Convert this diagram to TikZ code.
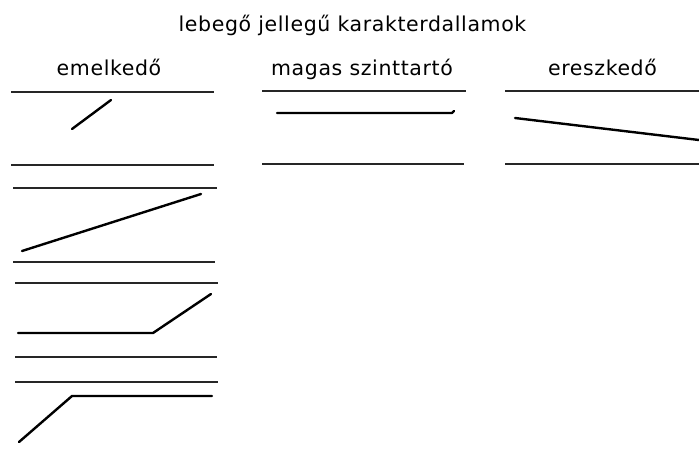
\documentclass[tikz,border=0pt]{standalone}
\usepackage{fontspec}
\setmainfont{DejaVu Sans}[LetterSpace=3]
\begin{document}
\begin{tikzpicture}[x=1pt,y=-1pt,
  txt/.style={inner sep=0pt,anchor=base,font=\fontsize{20.5}{24}\selectfont},
  staff/.style={line width=1.1pt,black!85},
  melody/.style={line width=2.4pt,line cap=round,line join=round}]
\useasboundingbox[fill=white] (0,0) rectangle (699,450);
% texts
\node[txt] (title) at (352.5,31) {lebegő jellegű karakterdallamok};
\node[txt] (h1) at (109,75) {emelkedő};
\node[txt] (h2) at (362,75) {magas szinttartó};
\node[txt] (h3) at (602.5,75) {ereszkedő};
% column 1
\draw[staff] (11,92) -- (214,92);
\draw[staff] (11,165) -- (214,165);
\draw[melody] (72,129) -- (111,100);
\draw[staff] (13,188) -- (217,188);
\draw[staff] (13,262) -- (215,262);
\draw[melody] (22,251) -- (201,194);
\draw[staff] (15,283) -- (218,283);
\draw[staff] (15,357) -- (217,357);
\draw[melody] (18,333) -- (153,333) -- (211,294);
\draw[staff] (15,382) -- (218,382);
\draw[melody] (19,442) -- (72,396) -- (212,396);
% column 2
\draw[staff] (262,91) -- (466,91);
\draw[staff] (262,164) -- (464,164);
\draw[melody] (277,113) -- (452,113) -- (454,111);
% column 3
\draw[staff] (505,91) -- (699,91);
\draw[staff] (505,164) -- (699,164);
\draw[melody] (515,118) -- (699,140);
\end{tikzpicture}
\end{document}
